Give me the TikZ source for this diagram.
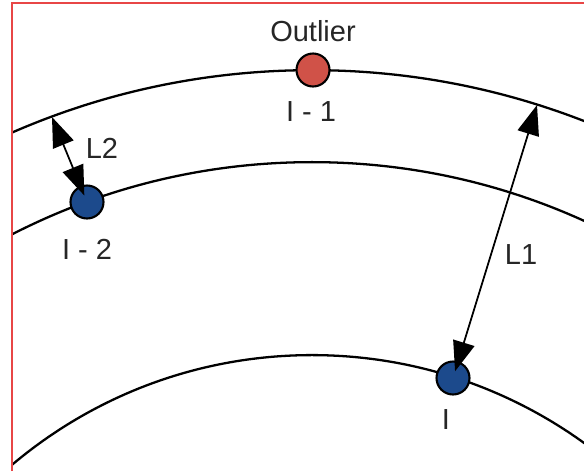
\documentclass[tikz,border=0pt]{standalone}
\usepackage{fontspec}
\setmainfont{Liberation Sans}
\usetikzlibrary{arrows.meta}
\definecolor{ptred}{RGB}{208,82,72}
\definecolor{ptblue}{RGB}{28,74,140}
\definecolor{framered}{RGB}{232,70,70}
\begin{document}
\begin{tikzpicture}[x=0.02cm, y=-0.02cm,
    every node/.style={font=\fontsize{16.5}{19}\selectfont, text=black!85},
    pt/.style={circle, draw, line width=1.2pt, minimum size=0.66cm, inner sep=0pt},
    band/.style={line width=1.3pt},
    dim/.style={line width=1pt, {Triangle[length=17pt,width=12.5pt]}-{Triangle[length=17pt,width=12.5pt]}}]
    \useasboundingbox (0,0) rectangle (584,471);
    % the three bands
    \begin{scope}
        \clip (12,3) rectangle (584,471);
        \coordinate (ctr) at (312,820);
        \draw[band] (ctr) circle[radius=15cm];
        \draw[band] (ctr) circle[radius=13.16cm];
        \draw[band] (ctr) circle[radius=9.3cm];
    \end{scope}
    \draw[framered, line width=0.6pt] (12,471) -- (12,3) -- (584,3);
    % points
    \node[pt, fill=ptred] (i1) at (313,70) {};
    \node[pt, fill=ptblue] (i2) at (87,202) {};
    \node[pt, fill=ptblue] (i) at (453,378) {};
    \coordinate (l2top) at (52,117);
    \coordinate (l1top) at (537,105);
    \draw[dim, shorten <=4pt] (i2.center) -- (l2top);
    \draw[dim, shorten <=4pt] (i.center) -- (l1top);
    % labels
    \node (tout) at (313,31) {Outlier};
    \node (t1) at (311,112) {I - 1};
    \node (t2) at (87,249) {I - 2};
    \node (t0) at (446,420) {I};
    \node (tl2) at (102,148) {L2};
    \node (tl1) at (521,255) {L1};
\end{tikzpicture}
\end{document}
